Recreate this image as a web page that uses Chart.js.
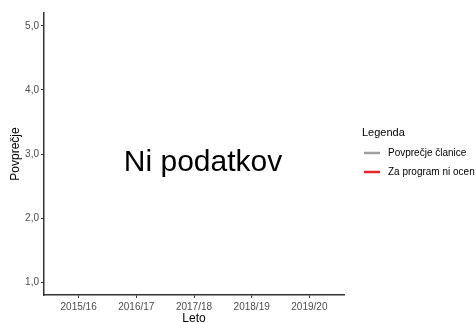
<!DOCTYPE html>
<html>
<head>
<meta charset="utf-8">
<script src="https://cdn.jsdelivr.net/npm/chart.js@4/dist/chart.umd.min.js"></script>
<style>
    html, body { margin: 0; padding: 0; background: #fff; }
    #wrap { width: 476px; height: 322px; position: relative; }
</style>
</head>
<body>
<div id="wrap"><canvas id="avgChart"></canvas></div>
<script>
// School years on the x axis
const years = ['2015/16', '2016/17', '2017/18', '2018/19', '2019/20'];
// Series values (no data available for any year)
const memberAvg = [null, null, null, null, null];
const notRated = [null, null, null, null, null];
// Y axis ticks
const yTicks = [1, 2, 3, 4, 5];

const seriesNames = ['Povprečje članice', 'Za program ni ocen'];
const seriesColors = ['#a0a0a0', '#e8262c'];
const emptyText = 'Ni podatkov';

const FONT = 'Liberation Sans, Arial, sans-serif';

// Draws the "no data" message and the legend on the right
const overlayPlugin = {
    id: 'overlay',
    afterDraw(chart) {
        const { ctx, scales } = chart;
        ctx.save();

        // message in the middle of the plot
        ctx.fillStyle = '#000';
        ctx.font = `30px ${FONT}`;
        ctx.textAlign = 'center';
        ctx.textBaseline = 'middle';
        ctx.fillText(emptyText, scales.x.getPixelForValue(2) + 9, scales.y.getPixelForValue(3) + 9);

        // legend
        ctx.textAlign = 'left';
        ctx.font = `11px ${FONT}`;
        ctx.fillText('Legenda', 362, 133);
        ctx.font = `10px ${FONT}`;
        chart.data.datasets.forEach((ds, i) => {
            const y = 153 + i * 19;
            ctx.strokeStyle = ds.borderColor;
            ctx.lineWidth = 2.5;
            ctx.beginPath();
            ctx.moveTo(364, y);
            ctx.lineTo(380, y);
            ctx.stroke();
            ctx.fillStyle = '#000';
            ctx.fillText(ds.label, 388, y);
        });
        ctx.restore();
    }
};

new Chart(document.getElementById('avgChart'), {
    type: 'line',
    data: {
        datasets: [
            {
                label: seriesNames[0],
                data: years.map((_, i) => ({ x: i, y: memberAvg[i] })),
                borderColor: seriesColors[0],
                backgroundColor: seriesColors[0],
                borderWidth: 2
            },
            {
                label: seriesNames[1],
                data: years.map((_, i) => ({ x: i, y: notRated[i] })),
                borderColor: seriesColors[1],
                backgroundColor: seriesColors[1],
                borderWidth: 2
            }
        ]
    },
    options: {
        responsive: true,
        maintainAspectRatio: false,
        animation: false,
        layout: { padding: { top: 13, right: 132, bottom: 0, left: 0 } },
        plugins: {
            legend: { display: false },
            tooltip: { enabled: false }
        },
        scales: {
            x: {
                type: 'linear',
                min: -0.6,
                max: years.length - 1 + 0.6,
                afterBuildTicks: (scale) => {
                    scale.ticks = years.map((_, i) => ({ value: i }));
                },
                afterFit: (scale) => { scale.height = 27; },
                ticks: {
                    callback: (v) => years[v],
                    color: '#4d4d4d',
                    font: { family: FONT, size: 10 },
                    padding: 3,
                    maxRotation: 0,
                    autoSkip: false
                },
                grid: { drawOnChartArea: false, tickLength: 3, color: '#333', lineWidth: 1 },
                border: { display: true, color: '#333', width: 1.5 },
                title: {
                    display: true,
                    text: 'Leto',
                    color: '#000',
                    font: { family: FONT, size: 12 },
                    padding: { top: 0, bottom: -4 }
                }
            },
            y: {
                min: 0.8,
                max: 5.2,
                afterBuildTicks: (scale) => {
                    scale.ticks = yTicks.map(v => ({ value: v }));
                },
                afterFit: (scale) => { scale.width = 44; },
                ticks: {
                    callback: (v) => v.toFixed(1).replace('.', ','),
                    color: '#4d4d4d',
                    font: { family: FONT, size: 10 },
                    padding: 2
                },
                grid: { drawOnChartArea: false, tickLength: 3, color: '#333', lineWidth: 1 },
                border: { display: true, color: '#333', width: 1.5 },
                title: {
                    display: true,
                    text: 'Povprečje',
                    color: '#000',
                    font: { family: FONT, size: 12 },
                    padding: { top: 8, bottom: 0 }
                }
            }
        }
    },
    plugins: [overlayPlugin]
});
</script>
</body>
</html>
